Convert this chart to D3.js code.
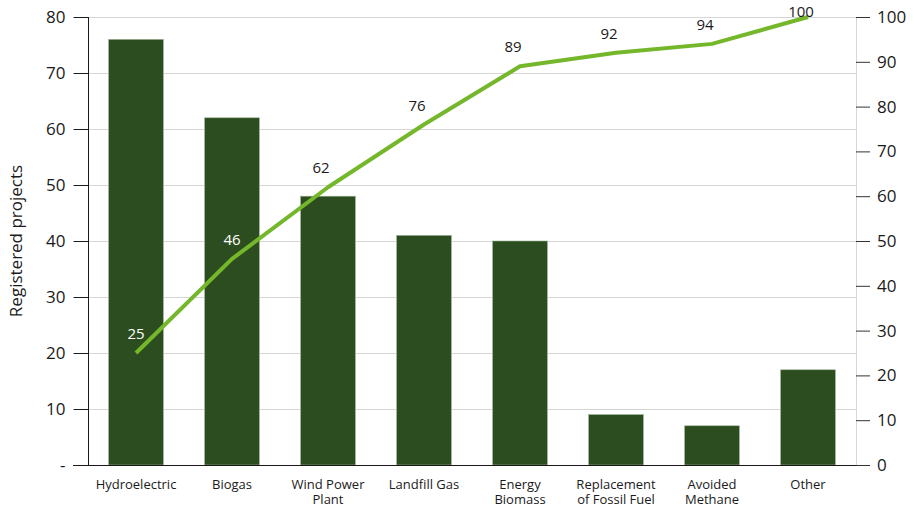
<!DOCTYPE html>
<html>
<head>
<meta charset="utf-8">
<script src="https://cdn.jsdelivr.net/npm/d3@7"></script>
<style>
  html, body { margin: 0; padding: 0; background: #fff; }
  svg { display: block; font-family: "Open Sans", "Noto Sans", sans-serif; }
</style>
</head>
<body>
<svg id="chart" width="914" height="509"></svg>
<script>
// Registered projects by type, with cumulative share (%)
const categories = [
  ["Hydroelectric"], ["Biogas"], ["Wind Power", "Plant"], ["Landfill Gas"],
  ["Energy", "Biomass"], ["Replacement", "of Fossil Fuel"], ["Avoided", "Methane"], ["Other"]
];
const projects = [76, 62, 48, 41, 40, 9, 7, 17];
const cumulativePct = [25, 46, 62, 76, 89, 92, 94, 100];
const leftTicks = [0, 10, 20, 30, 40, 50, 60, 70, 80];
const rightTicks = [0, 10, 20, 30, 40, 50, 60, 70, 80, 90, 100];

const svg = d3.select("#chart");
const m = { left: 88, right: 856, top: 17, bottom: 465 };
const keys = categories.map(c => c.join(" "));

const x = d3.scaleBand().domain(keys).range([m.left, m.right]).paddingInner(0.43).paddingOuter(0.215);
const yL = d3.scaleLinear().domain([0, 80]).range([m.bottom, m.top]);
const yR = d3.scaleLinear().domain([0, 100]).range([m.bottom, m.top]);

// gridlines
svg.append("g").selectAll("line").data(leftTicks.filter(d => d > 0)).join("line")
  .attr("x1", m.left).attr("x2", m.right)
  .attr("y1", d => yL(d) + 0.5).attr("y2", d => yL(d) + 0.5)
  .attr("stroke", "#d6d6d6").attr("stroke-width", 1);
svg.append("line").attr("x1", m.right + 0.5).attr("x2", m.right + 0.5)
  .attr("y1", m.top).attr("y2", m.bottom).attr("stroke", "#d6d6d6");

// bars
svg.append("g").selectAll("rect").data(projects).join("rect")
  .attr("x", (d, i) => x(keys[i]))
  .attr("width", x.bandwidth())
  .attr("y", d => yL(d))
  .attr("height", d => yL(0) - yL(d))
  .attr("fill", "#2c4d20")
  .attr("stroke", "#9bb08f").attr("stroke-width", 0.6);

// left axis
const gL = svg.append("g").attr("transform", `translate(${m.left + 0.5},0)`)
  .call(d3.axisLeft(yL).tickValues(leftTicks).tickSize(15).tickPadding(8)
    .tickFormat(d => d === 0 ? "-" : d));
gL.select(".domain").attr("stroke", "#1a1a1a").attr("d", `M0,${m.top}V${m.bottom}`);
gL.selectAll(".tick line").attr("stroke", "#1a1a1a");
gL.selectAll(".tick text").attr("font-size", 17).attr("fill", "#1a1a1a")
  .attr("font-family", "'Open Sans', sans-serif");

// right axis
const gR = svg.append("g").attr("transform", `translate(${m.right},0)`)
  .call(d3.axisRight(yR).tickValues(rightTicks).tickSize(14).tickPadding(7));
gR.select(".domain").remove();
gR.selectAll(".tick line").attr("stroke", "#333");
gR.selectAll(".tick text").attr("font-size", 17).attr("fill", "#1a1a1a")
  .attr("font-family", "'Open Sans', sans-serif");

// baseline
svg.append("line").attr("x1", m.left - 15).attr("x2", m.right)
  .attr("y1", m.bottom + 0.5).attr("y2", m.bottom + 0.5).attr("stroke", "#1a1a1a");

// category labels, one text element per line
const catLines = categories.flatMap((c, i) => c.map((t, j) => ({ t, i, j })));
svg.append("g").selectAll("text").data(catLines).join("text")
  .attr("x", d => x(keys[d.i]) + x.bandwidth() / 2)
  .attr("y", d => 489 + d.j * 15)
  .attr("text-anchor", "middle").attr("font-size", 13).attr("fill", "#1a1a1a")
  .text(d => d.t);

// y title
svg.append("text").attr("transform", "translate(22,241) rotate(-90)")
  .attr("text-anchor", "middle").attr("font-size", 17).attr("fill", "#1a1a1a")
  .text("Registered projects");

// cumulative line
const cx = i => x(keys[i]) + x.bandwidth() / 2;
svg.append("path").datum(cumulativePct)
  .attr("d", d3.line().x((d, i) => cx(i)).y(d => yR(d)))
  .attr("fill", "none").attr("stroke", "#74b72b").attr("stroke-width", 4)
  .attr("stroke-linejoin", "round");

// cumulative labels: white where the label sits on a bar, dark above it
const onBar = (d, i) => yR(d) > yL(projects[i]);
svg.append("g").selectAll("text").data(cumulativePct).join("text")
  .attr("x", (d, i) => cx(i) + (onBar(d, i) ? 0 : -7))
  .attr("y", d => Math.max(yR(d) - 14, 17))
  .attr("text-anchor", "middle").attr("font-size", 15)
  .attr("fill", (d, i) => onBar(d, i) ? "#ffffff" : "#1a1a1a")
  .text(d => d);
</script>
</body>
</html>
